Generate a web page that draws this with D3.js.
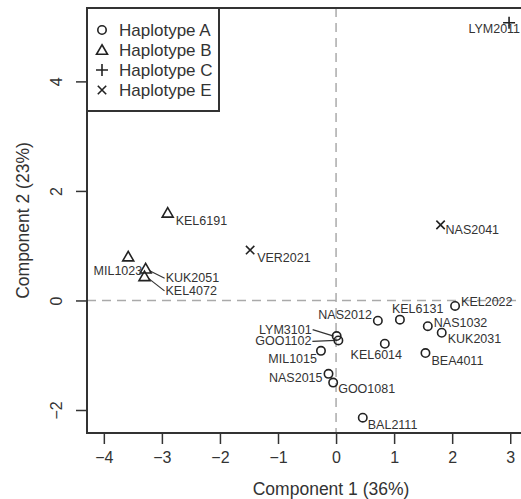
<!DOCTYPE html>
<html>
<head>
<meta charset="utf-8">
<script src="https://cdn.jsdelivr.net/npm/d3@7"></script>
<style>
  body { margin: 0; background: #fff; }
  text { font-family: "Liberation Sans", Arial, sans-serif; fill: #333; }
</style>
</head>
<body>
<div id="chart"></div>
<script>
// PCA scores
var sampleNames = ["LYM2011", "NAS2041", "KEL6191", "VER2021", "MIL1023", "KUK2051", "KEL4072",
    "KEL2022", "NAS2012", "KEL6131", "NAS1032", "KUK2031", "LYM3101", "GOO1102",
    "KEL6014", "MIL1015", "BEA4011", "NAS2015", "GOO1081", "BAL2111"];
var haplotype = ["C", "E", "B", "E", "B", "B", "B",
    "A", "A", "A", "A", "A", "A", "A",
    "A", "A", "A", "A", "A", "A"];
var pc1 = [2.98, 1.80, -2.90, -1.48, -3.58, -3.28, -3.30,
    2.05, 0.72, 1.10, 1.58, 1.82, 0.01, 0.04,
    0.84, -0.26, 1.54, -0.13, -0.05, 0.46];
var pc2 = [5.07, 1.38, 1.60, 0.92, 0.80, 0.58, 0.44,
    -0.10, -0.37, -0.35, -0.47, -0.59, -0.65, -0.73,
    -0.79, -0.92, -0.96, -1.34, -1.50, -2.14];

var legendKeys = ["A", "B", "C", "E"];
var legendLabels = ["Haplotype A", "Haplotype B", "Haplotype C", "Haplotype E"];
var xTicks = [-4, -3, -2, -1, 0, 1, 2, 3];
var yTicks = [-2, 0, 2, 4];

// label placement: dx, dy (px from point), anchor, leader line?
var labelPlace = {
    LYM2011: [11, 10, "end"], NAS2041: [5, 9.5, "start"], KEL6191: [8, 12.5, "start"],
    VER2021: [7, 11.5, "start"], MIL1023: [14, 18.5, "end"], KUK2051: [20, 13.5, "start", 1],
    KEL4072: [21, 18.5, "start", 1], KEL2022: [6, 0.5, "start"], NAS2012: [-6, -1.5, "end"],
    KEL6131: [-8, -6.5, "start"], NAS1032: [6, 0.5, "start"], KUK2031: [6, 10.5, "start"],
    LYM3101: [-25, -2.5, "end", 1], GOO1102: [-27, 5, "end", 1], KEL6014: [-8.5, 15.5, "middle"],
    MIL1015: [-4, 12.5, "end"], BEA4011: [6, 11.5, "start"], NAS2015: [-6, 8.5, "end"],
    GOO1081: [5, 10.5, "start"], BAL2111: [5, 11.5, "start"]
};

var W = 521, H = 499;
var margin = {top: 8, right: -2, bottom: 66, left: 87},
    width = W - margin.left - margin.right,
    height = H - margin.top - margin.bottom;

var svg = d3.select("#chart").append("svg")
    .attr("width", W).attr("height", H)
    .append("g")
    .attr("transform", "translate(" + margin.left + "," + margin.top + ")");

var x = d3.scaleLinear().domain([-4.29, 3.22]).range([0, width]);
var y = d3.scaleLinear().domain([-2.42, 5.34]).range([height, 0]);

// dashed reference lines at zero
svg.append("line")
    .attr("x1", x(0)).attr("x2", x(0)).attr("y1", 0).attr("y2", height)
    .attr("stroke", "#aaa").attr("stroke-width", 1.5).attr("stroke-dasharray", "9,6");
svg.append("line")
    .attr("x1", 0).attr("x2", width).attr("y1", y(0)).attr("y2", y(0))
    .attr("stroke", "#aaa").attr("stroke-width", 1.5).attr("stroke-dasharray", "9,6");

// axes
var xAxis = svg.append("g")
    .attr("transform", "translate(0," + (height + 1) + ")")
    .call(d3.axisBottom(x).tickValues(xTicks).tickSize(10).tickPadding(8).tickFormat(d3.format("d")));
var yAxis = svg.append("g")
    .attr("transform", "translate(-1,0)")
    .call(d3.axisLeft(y).tickValues(yTicks).tickSize(10).tickPadding(8).tickFormat(d3.format("d")));
[xAxis, yAxis].forEach(function(a) {
    a.select(".domain").remove();
    a.selectAll("line").attr("stroke", "#333").attr("stroke-width", 1.5);
    a.selectAll("text").style("font-size", "16px").attr("fill", "#333");
});
yAxis.selectAll(".tick text")
    .attr("text-anchor", "middle")
    .attr("x", null).attr("dy", null)
    .attr("transform", "translate(-24,0) rotate(-90)")
    .attr("y", 0);

// box
svg.append("rect")
    .attr("x", 0).attr("y", 0).attr("width", width).attr("height", height)
    .attr("fill", "none").attr("stroke", "#333").attr("stroke-width", 2);

// axis titles
svg.append("text")
    .attr("x", x(0) - 5).attr("y", height + 62)
    .attr("text-anchor", "middle").style("font-size", "17.5px")
    .text("Component 1 (36%)");
svg.append("text")
    .attr("transform", "translate(" + (-58) + "," + (height / 2) + ") rotate(-90)")
    .attr("text-anchor", "middle").style("font-size", "17.5px")
    .text("Component 2 (23%)");

function symbolPath(key, s) {
    if (key === "A") {
        var r = s * 0.42;
        return "M" + r + ",0A" + r + "," + r + " 0 1,1 " + (-r) + ",0A" + r + "," + r + " 0 1,1 " + r + ",0Z";
    }
    if (key === "B") {
        var h = s * 0.5;
        return "M0," + (-h * 1.05) + "L" + (h * 1.1) + "," + (h * 0.85) + "L" + (-h * 1.1) + "," + (h * 0.85) + "Z";
    }
    if (key === "C") {
        var p = s * 0.6;
        return "M" + (-p) + ",0L" + p + ",0M0," + (-p) + "L0," + p;
    }
    var t = s * 0.42;
    return "M" + (-t) + "," + (-t) + "L" + t + "," + t + "M" + (-t) + "," + t + "L" + t + "," + (-t);
}

var pts = sampleNames.map(function(n, i) {
    return {name: n, hap: haplotype[i], px: pc1[i], py: pc2[i]};
});

// leader lines
svg.append("g").selectAll("line")
    .data(pts.filter(function(d) { return labelPlace[d.name][3]; }))
    .enter().append("line")
    .attr("x1", function(d) { var p = labelPlace[d.name]; return x(d.px) + (p[0] > 0 ? 4 : -3); })
    .attr("y1", function(d) { var p = labelPlace[d.name]; return y(d.py) + (p[0] > 0 ? 2 : 0); })
    .attr("x2", function(d) { var p = labelPlace[d.name]; return x(d.px) + p[0] + (p[0] > 0 ? -1 : 1); })
    .attr("y2", function(d) { var p = labelPlace[d.name]; return y(d.py) + p[1] - 4; })
    .attr("stroke", "#333").attr("stroke-width", 1.2);

// points
svg.append("g").selectAll("path")
    .data(pts)
    .enter().append("path")
    .attr("transform", function(d) { return "translate(" + x(d.px) + "," + y(d.py) + ")"; })
    .attr("d", function(d) { return symbolPath(d.hap, 10); })
    .attr("fill", "none").attr("stroke", "#222").attr("stroke-width", 1.6);

// point labels
svg.append("g").selectAll("text")
    .data(pts)
    .enter().append("text")
    .attr("x", function(d) { return x(d.px) + labelPlace[d.name][0]; })
    .attr("y", function(d) { return y(d.py) + labelPlace[d.name][1]; })
    .attr("text-anchor", function(d) { return labelPlace[d.name][2]; })
    .style("font-size", "12.5px")
    .text(function(d) { return d.name; });

// legend
var legend = svg.append("g");
legend.append("rect")
    .attr("x", 0).attr("y", 0).attr("width", 132).attr("height", 103)
    .attr("fill", "#fff").attr("stroke", "#333").attr("stroke-width", 2);
legendKeys.forEach(function(k, i) {
    legend.append("path")
        .attr("transform", "translate(15," + (22 + i * 20) + ")")
        .attr("d", symbolPath(k, 10))
        .attr("fill", "none").attr("stroke", "#222").attr("stroke-width", 1.6);
    legend.append("text")
        .attr("x", 32).attr("y", 22 + i * 20 + 6)
        .style("font-size", "17px")
        .text(legendLabels[i]);
});
</script>
</body>
</html>
